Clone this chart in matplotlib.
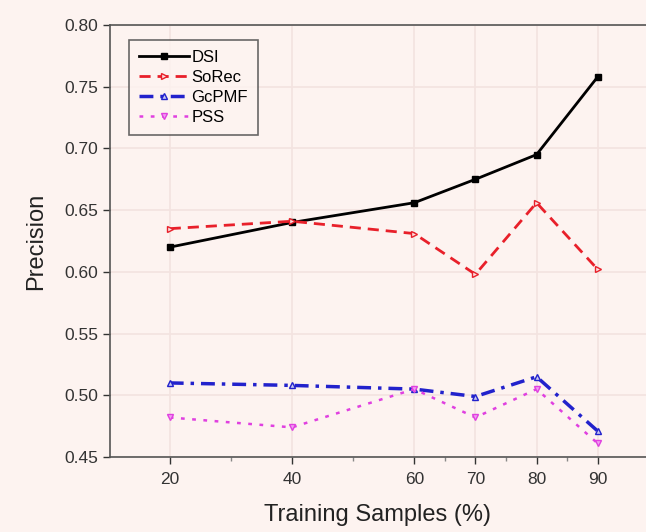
import numpy as np
import matplotlib.pyplot as plt
from matplotlib.ticker import FixedLocator

plt.rcParams['font.family'] = ['Liberation Sans', 'DejaVu Sans']

# Training sample percentages and precision values
samples = [20, 40, 60, 70, 80, 90]
dsi = [0.620, 0.640, 0.656, 0.675, 0.695, 0.758]
sorec = [0.635, 0.641, 0.631, 0.598, 0.656, 0.602]
gcpmf = [0.510, 0.508, 0.505, 0.499, 0.515, 0.471]
pss = [0.482, 0.474, 0.505, 0.482, 0.505, 0.461]

minor_ticks = [30, 50, 65, 75, 85]
y_ticks = [0.45, 0.50, 0.55, 0.60, 0.65, 0.70, 0.75, 0.80]

bg = "#fdf3f0"
fig = plt.figure(figsize=(6.46, 5.32), dpi=100, facecolor=bg)
ax = fig.add_axes([0.170, 0.141, 0.830, 0.812])
ax.set_facecolor(bg)

ax.plot(samples, dsi, color="black", lw=2, marker="s", ms=4,
        label="DSI")
ax.plot(samples, sorec, color="#e8202a", lw=2, ls=(0, (4, 2.5)), marker=">",
        ms=5, mfc="#fbe0e0", mec="#e8202a", label="SoRec")
ax.plot(samples, gcpmf, color="#2222cc", lw=2.5, ls=(0, (4, 2, 1, 2)),
        marker="^", ms=5, mfc="#c8c8f0", mec="#2222cc", label="GcPMF")
ax.plot(samples, pss, color="#e040e0", lw=1.8, ls=(0, (1.5, 3)),
        marker="v", ms=5, mfc="#f0a0f0", mec="#e040e0", label="PSS")

ax.set_xlim(10.2, 97.9)
ax.set_ylim(0.45, 0.80)
ax.set_xticks(samples)
ax.xaxis.set_minor_locator(FixedLocator(minor_ticks))
ax.set_yticks(y_ticks)
ax.set_yticklabels(["%.2f" % v for v in y_ticks])

ax.grid(True, which="major", color="#f3e3e0", lw=1.2)
ax.set_axisbelow(True)

for s in ax.spines.values():
    s.set_color("#555555")
    s.set_linewidth(1.2)
ax.spines["right"].set_visible(False)

ax.tick_params(axis="both", which="major", labelsize=12.5, colors="#333333",
               length=5, width=1)
ax.tick_params(axis="x", which="minor", length=3, width=1, colors="#888888")
ax.tick_params(axis="x", which="major", pad=6)

ax.set_xlabel("Training Samples (%)", fontsize=17, color="#222222",
              labelpad=12)
ax.set_ylabel("Precision", fontsize=17, color="#222222", labelpad=12)

leg = ax.legend(loc="upper left", bbox_to_anchor=(0.02, 0.985), fontsize=12,
                frameon=True, fancybox=False, handlelength=3.0,
                handletextpad=0.15, borderpad=0.6, labelspacing=0.3)
leg.get_frame().set_edgecolor("#444444")
leg.get_frame().set_facecolor(bg)
leg.get_frame().set_linewidth(1.2)

plt.savefig("out.png", dpi=100, facecolor=bg)
